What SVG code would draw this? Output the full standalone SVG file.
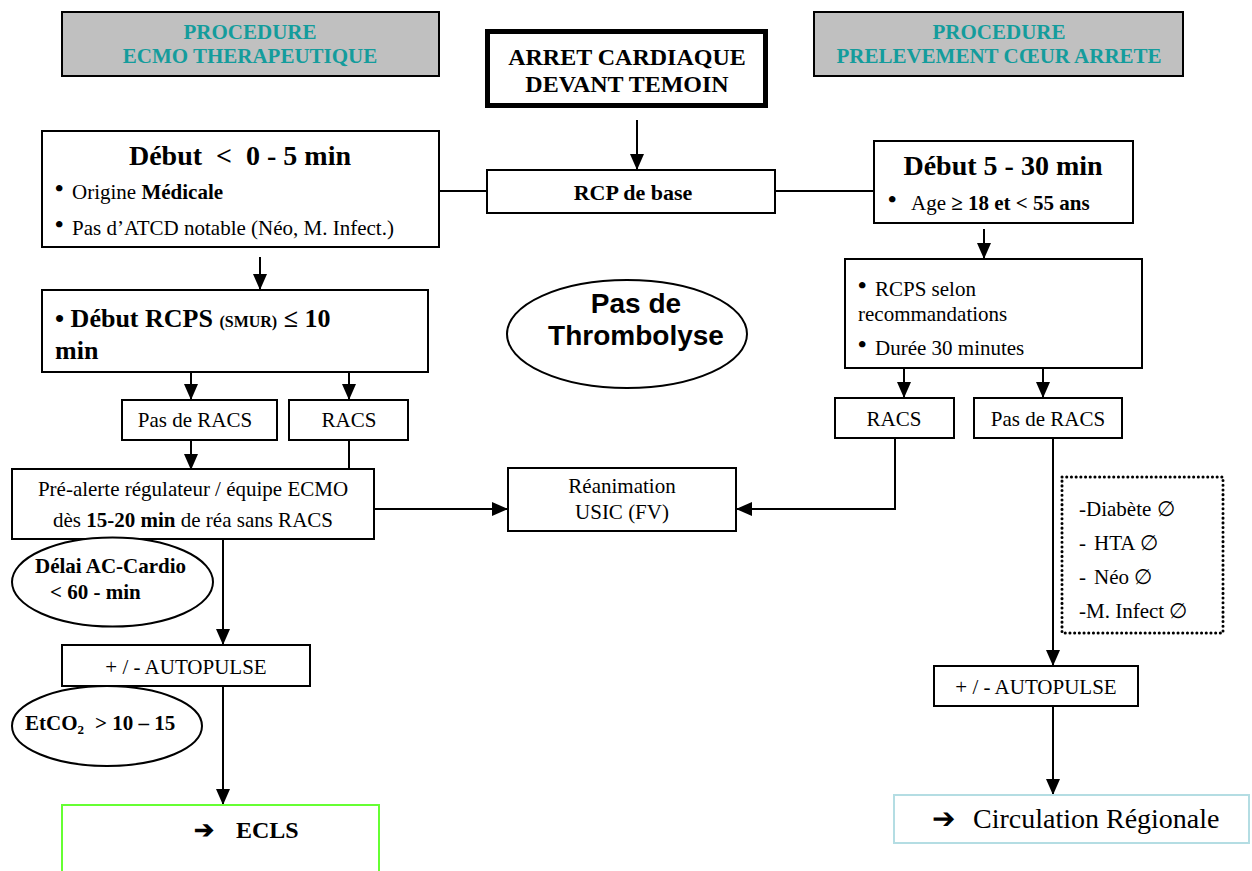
<svg xmlns="http://www.w3.org/2000/svg" width="1252" height="871" viewBox="0 0 1252 871">
<style>
text{font-family:"Liberation Serif","Times New Roman",serif;fill:#000}
.r{font-size:21px}
.b{font-weight:bold}
.t{font-size:21px;font-weight:bold;fill:#149c9c;text-anchor:middle}
.m{text-anchor:middle}
.box{fill:#fff;stroke:#000;stroke-width:2}
.c{fill:none;stroke:#000;stroke-width:2}
.bul{font-size:24px;font-weight:bold}
</style>
<defs>
<marker id="ah" markerUnits="userSpaceOnUse" markerWidth="16" markerHeight="16" viewBox="0 0 16 16" refX="16" refY="8" orient="auto">
<path d="M0,1 L16,8 L0,15 z" fill="#000"/>
</marker>
</defs>

<g id="connectors">
<line class="c" x1="637" y1="120" x2="637" y2="170" marker-end="url(#ah)"/>
<line class="c" x1="439" y1="191" x2="487" y2="191"/>
<line class="c" x1="775" y1="191" x2="874" y2="191"/>
<line class="c" x1="260" y1="257" x2="260" y2="290" marker-end="url(#ah)"/>
<polyline class="c" points="260,338 260,369"/>
<line class="c" x1="190" y1="369" x2="350" y2="369"/>
<line class="c" x1="191" y1="369" x2="191" y2="400" marker-end="url(#ah)"/>
<line class="c" x1="349" y1="369" x2="349" y2="400" marker-end="url(#ah)"/>
<line class="c" x1="191" y1="440" x2="191" y2="470" marker-end="url(#ah)"/>
<line class="c" x1="349" y1="440" x2="349" y2="470"/>
<line class="c" x1="374" y1="509" x2="508" y2="509" marker-end="url(#ah)"/>
<line class="c" x1="223" y1="539" x2="223" y2="645" marker-end="url(#ah)"/>
<line class="c" x1="223" y1="686" x2="223" y2="805" marker-end="url(#ah)"/>
<line class="c" x1="984" y1="229" x2="984" y2="259" marker-end="url(#ah)"/>
<line class="c" x1="983" y1="340" x2="983" y2="368"/>
<line class="c" x1="904" y1="368" x2="1043" y2="368"/>
<line class="c" x1="904" y1="368" x2="904" y2="398" marker-end="url(#ah)"/>
<line class="c" x1="1043" y1="368" x2="1043" y2="398" marker-end="url(#ah)"/>
<polyline class="c" points="895,438 895,509 736,509" marker-end="url(#ah)"/>
<line class="c" x1="1053" y1="438" x2="1053" y2="666" marker-end="url(#ah)"/>
<line class="c" x1="1053" y1="706" x2="1053" y2="795" marker-end="url(#ah)"/>
</g>

<g id="proc-ecmo">
<rect x="62" y="12" width="377" height="64" fill="#c0c0c0" stroke="#000" stroke-width="2"/>
<text class="t" x="250" y="39">PROCEDURE</text>
<text class="t" x="250" y="63">ECMO THERAPEUTIQUE</text>
</g>

<g id="proc-prelevement">
<rect x="814" y="12" width="369" height="64" fill="#c0c0c0" stroke="#000" stroke-width="2"/>
<text class="t" x="999" y="39">PROCEDURE</text>
<text class="t" x="999" y="63">PRELEVEMENT CŒUR ARRETE</text>
</g>

<g id="arret">
<rect x="487.5" y="31.5" width="278" height="74" fill="#fff" stroke="#000" stroke-width="5"/>
<text class="b m" x="627" y="65" font-size="24">ARRET CARDIAQUE</text>
<text class="b m" x="627" y="92" font-size="24">DEVANT TEMOIN</text>
</g>

<g id="rcp-base">
<rect class="box" x="487" y="170" width="288" height="43"/>
<text class="b m" x="633" y="200" font-size="22">RCP de base</text>
</g>

<g id="debut-left">
<rect class="box" x="42" y="131" width="397" height="116"/>
<text class="b m" x="240" y="165" font-size="28" xml:space="preserve">Début  &lt;  0 - 5 min</text>
<text class="bul" x="55" y="196">•</text>
<text class="r" x="72" y="199">Origine <tspan class="b">Médicale</tspan></text>
<text class="bul" x="55" y="232">•</text>
<text class="r" x="72" y="235">Pas d’ATCD notable (Néo, M. Infect.)</text>
</g>

<g id="debut-right">
<rect class="box" x="874" y="141" width="259" height="82"/>
<text class="b m" x="1003" y="175" font-size="28">Début 5 - 30 min</text>
<text class="bul" x="888" y="207">•</text>
<text class="r" x="911" y="210">Age <tspan class="b">≥ 18 et &lt; 55 ans</tspan></text>
</g>

<g id="rcps-left">
<rect class="box" x="42" y="290" width="386" height="82"/>
<text class="b" x="55" y="327" font-size="26">• Début RCPS <tspan font-size="16">(SMUR)</tspan> ≤ 10</text>
<text class="b" x="55" y="359" font-size="26">min</text>
</g>

<g id="thrombolyse">
<ellipse cx="627" cy="334" rx="120" ry="54" fill="#fff" stroke="#000" stroke-width="2"/>
<text class="m" x="636" y="313" font-size="28" font-weight="bold" style="font-family:'Liberation Sans',Arial,sans-serif">Pas de</text>
<text class="m" x="636" y="345" font-size="28" font-weight="bold" style="font-family:'Liberation Sans',Arial,sans-serif">Thrombolyse</text>
</g>

<g id="rcps-right">
<rect class="box" x="845" y="259" width="297" height="109"/>
<text class="bul" x="858" y="293">•</text>
<text class="r" x="875" y="296">RCPS selon</text>
<text class="r" x="858" y="321">recommandations</text>
<text class="bul" x="858" y="352">•</text>
<text class="r" x="875" y="355">Durée 30 minutes</text>
</g>

<g id="pas-racs-left">
<rect class="box" x="122" y="400" width="155" height="40"/>
<text class="r m" x="195" y="427">Pas de RACS</text>
</g>

<g id="racs-left">
<rect class="box" x="289" y="400" width="119" height="40"/>
<text class="r m" x="349" y="427">RACS</text>
</g>

<g id="racs-right">
<rect class="box" x="835" y="398" width="119" height="40"/>
<text class="r m" x="894" y="426">RACS</text>
</g>

<g id="pas-racs-right">
<rect class="box" x="974" y="398" width="148" height="40"/>
<text class="r m" x="1048" y="426">Pas de RACS</text>
</g>

<g id="pre-alerte">
<rect class="box" x="12" y="469" width="362" height="70"/>
<text class="r m" x="193" y="496">Pré-alerte régulateur / équipe ECMO</text>
<text class="r m" x="193" y="527">dès <tspan class="b">15-20 min</tspan> de réa sans RACS</text>
</g>

<g id="reanimation">
<rect class="box" x="508" y="468" width="228" height="63"/>
<text class="r m" x="622" y="493">Réanimation</text>
<text class="r m" x="622" y="519">USIC (FV)</text>
</g>

<g id="delai">
<ellipse cx="112.5" cy="582" rx="100.5" ry="44.5" fill="#fff" stroke="#000" stroke-width="2"/>
<text class="r b" x="35" y="573">Délai AC-Cardio</text>
<text class="r b" x="50" y="599">&lt; 60 - min</text>
</g>

<g id="autopulse-left">
<rect class="box" x="62" y="645" width="248" height="41"/>
<text class="r m" x="186" y="674">+ / - AUTOPULSE</text>
</g>

<g id="etco2">
<ellipse cx="107" cy="726" rx="95" ry="40" fill="#fff" stroke="#000" stroke-width="2"/>
<text class="r b" x="25" y="730">EtCO<tspan font-size="13" dy="4">2</tspan><tspan x="95" dy="-4">&gt; 10 – 15</tspan></text>
</g>

<g id="ecls">
<path d="M62,880 V805 H379 V880" fill="none" stroke="#66ff33" stroke-width="2"/>
<text class="b" x="194" y="838" font-size="24">➔<tspan x="236">ECLS</tspan></text>
</g>

<g id="criteres">
<rect x="1062" y="477" width="161" height="156" fill="#fff" stroke="#000" stroke-width="3" stroke-dasharray="0.1 4.6" stroke-linecap="round"/>
<text class="r" x="1079" y="516">-Diabète ∅</text>
<text class="r" x="1079" y="550">- <tspan x="1094">HTA ∅</tspan></text>
<text class="r" x="1079" y="584">- <tspan x="1094">Néo ∅</tspan></text>
<text class="r" x="1079" y="618">-M. Infect ∅</text>
</g>

<g id="autopulse-right">
<rect class="box" x="934" y="666" width="204" height="40"/>
<text class="r m" x="1036" y="694">+ / - AUTOPULSE</text>
</g>

<g id="circulation">
<rect x="894" y="795" width="355" height="48" fill="#fff" stroke="#b4dde3" stroke-width="2"/>
<text x="932" y="828" font-size="28">➔<tspan x="973">Circulation Régionale</tspan></text>
</g>
</svg>
